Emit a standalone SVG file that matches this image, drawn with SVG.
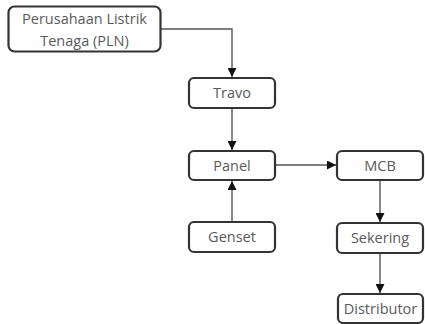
<svg xmlns="http://www.w3.org/2000/svg" width="425" height="324" viewBox="0 0 425 324">
<defs>
<style>
.box{fill:#fff;stroke:#333;stroke-width:2.2}
.lbl{font-family:"Open Sans",sans-serif;font-size:14.5px;fill:#5a5a5a;text-anchor:middle}
.con{fill:none;stroke:#555;stroke-width:1.4}
</style>
<marker id="ah" viewBox="0 0 10 10" refX="10" refY="5" markerWidth="12" markerHeight="9" markerUnits="userSpaceOnUse" orient="auto">
<path d="M0,0 L10,5 L0,10 Z" fill="#111"/>
</marker>
</defs>
<rect width="425" height="324" fill="#fff"/>
<g id="connectors">
<path class="con" d="M160 29 H232 V77" marker-end="url(#ah)"/>
<path class="con" d="M232 108 V150" marker-end="url(#ah)"/>
<path class="con" d="M232 222 V181" marker-end="url(#ah)"/>
<path class="con" d="M275 165 H336" marker-end="url(#ah)"/>
<path class="con" d="M380 180 V222" marker-end="url(#ah)"/>
<path class="con" d="M380 253 V293" marker-end="url(#ah)"/>
</g>
<g id="pln">
<rect class="box" x="8.5" y="6.5" width="152" height="45" rx="6"/>
<text class="lbl" x="84.5" y="23.5">Perusahaan Listrik</text>
<text class="lbl" x="84.5" y="46">Tenaga (PLN)</text>
</g>
<g id="travo">
<rect class="box" x="189" y="78" width="86" height="30" rx="5"/>
<text class="lbl" x="232" y="98">Travo</text>
</g>
<g id="panel">
<rect class="box" x="189" y="151" width="86" height="29" rx="5"/>
<text class="lbl" x="232" y="170.5">Panel</text>
</g>
<g id="genset">
<rect class="box" x="189" y="222" width="86" height="30" rx="5"/>
<text class="lbl" x="232" y="242">Genset</text>
</g>
<g id="mcb">
<rect class="box" x="337" y="151" width="86" height="29" rx="5"/>
<text class="lbl" x="380" y="170.5">MCB</text>
</g>
<g id="sekering">
<rect class="box" x="337" y="223" width="86" height="30" rx="5"/>
<text class="lbl" x="380" y="243">Sekering</text>
</g>
<g id="distributor">
<rect class="box" x="338" y="294" width="85" height="29" rx="5"/>
<text class="lbl" x="380.5" y="313.5">Distributor</text>
</g>
</svg>
